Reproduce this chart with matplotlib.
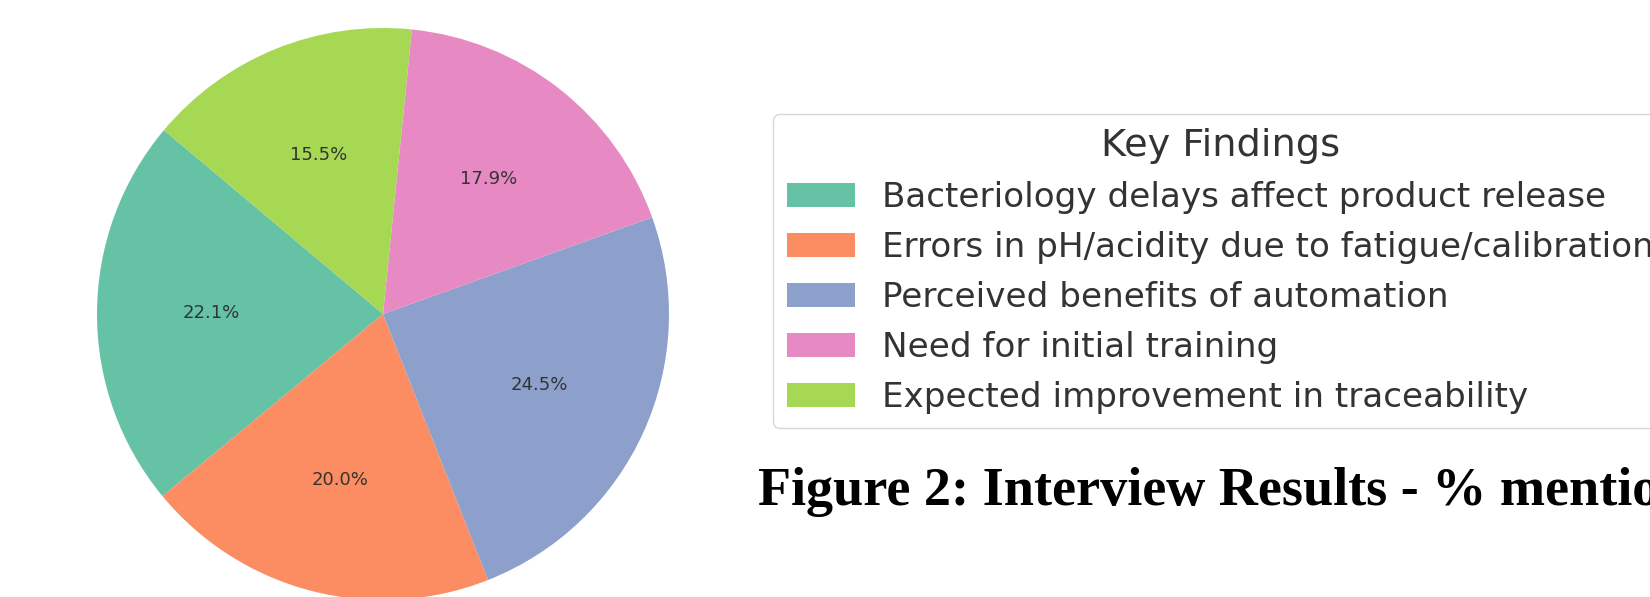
import matplotlib
matplotlib.use("Agg")
import matplotlib.pyplot as plt

categories = [
    "Bacteriology delays affect product release",
    "Errors in pH/acidity due to fatigue/calibration",
    "Perceived benefits of automation",
    "Need for initial training",
    "Expected improvement in traceability",
]
values = [22.1, 20.0, 24.5, 17.9, 15.5]
colors = ["#66c2a5", "#fc8d62", "#8da0cb", "#e78ac3", "#a6d854"]
legend_title = "Key Findings"
caption = "Figure 2: Interview Results - % mentions"

W, H = 1650, 597
fig = plt.figure(figsize=(W / 100, H / 100), dpi=100)

cx, cy, r = 383, 314, 286
ax = fig.add_axes([(cx - r) / W, (H - cy - r) / H, 2 * r / W, 2 * r / H])
wedges, texts, autotexts = ax.pie(
    values, colors=colors, startangle=140, autopct="%1.1f%%",
    pctdistance=0.6, textprops=dict(fontsize=13, color="#333333"),
)
for w in wedges:
    w.set_clip_on(False)
ax.set_xlim(-1, 1)
ax.set_ylim(-1, 1)
ax.set_aspect("auto")

leg = fig.legend(
    wedges, categories, title=legend_title,
    loc="upper left", bbox_to_anchor=(773 / W, 1 - 114 / H),
    bbox_transform=fig.transFigure, borderaxespad=0,
    fontsize=24.6, title_fontsize=27.5, labelspacing=0.5,
    handlelength=2.0, handleheight=0.7, handletextpad=0.8,
)
for t in leg.get_texts():
    t.set_color("#333333")
leg.get_title().set_color("#333333")

fig.text(758 / W, 1 - 505 / H, caption, fontsize=39, fontweight="bold",
         family=["Liberation Serif", "DejaVu Serif"], va="baseline", ha="left")

fig.savefig("out.png", dpi=100)
